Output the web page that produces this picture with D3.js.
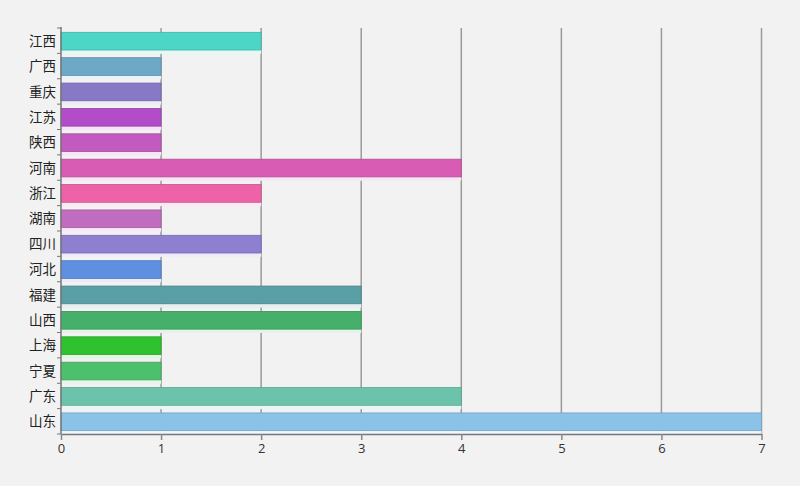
<!DOCTYPE html>
<html><head><meta charset="utf-8">
<script src="https://cdn.jsdelivr.net/npm/d3@7"></script>
<style>
html,body{margin:0;padding:0;background:#f2f2f2;}
svg{display:block;}
</style></head>
<body>
<script>
const categories = ["江西","广西","重庆","江苏","陕西","河南","浙江","湖南","四川","河北","福建","山西","上海","宁夏","广东","山东"];
const values = [2,1,1,1,1,4,2,1,2,1,3,3,1,1,4,7];
const colors = ["#4dd5c5","#6ea8c7","#8779c6","#b24cc9","#c35ac0","#d85bb4","#ee62a7","#c06dbf","#8e7fd0","#5e8fe0","#5a9ea6","#46b06b","#30c12f","#4dc06d","#6cc3ac","#8ac2e8"];
const xTicks = [0,1,2,3,4,5,6,7];

const W = 800, H = 486;
const m = {left: 61, right: 38, top: 28, bottom: 52};
const svg = d3.select("body").append("svg").attr("width", W).attr("height", H);
svg.append("rect").attr("width", W).attr("height", H).attr("fill", "#f2f2f2");

const x = d3.scaleLinear().domain([0, 7]).range([m.left, W - m.right - 0.5]);
const y = d3.scaleBand().domain(categories).range([m.top, H - m.bottom]).padding(0);
const bw = y.bandwidth();
const yBottom = H - m.bottom;

// gridlines
svg.append("g").selectAll("line").data(xTicks.slice(1)).join("line")
  .attr("x1", d => x(d)).attr("x2", d => x(d))
  .attr("y1", m.top).attr("y2", yBottom)
  .attr("stroke", "#9a9a9a").attr("stroke-width", 1.5);

// light strips below bars
const rows = categories.map((c, i) => ({c, v: values[i], col: colors[i]}));
svg.append("g").selectAll("rect").data(rows).join("rect")
  .attr("x", x(0)).attr("y", d => y(d.c) + bw * 0.17 + 17.7)
  .attr("width", d => x(d.v) - x(0))
  .attr("height", d => Math.max(0, Math.min(bw * 0.83 - 17.7 + 0.5, yBottom - (y(d.c) + bw * 0.17 + 17.7))))
  .attr("fill", d => d3.interpolateRgb(d.col, "#ffffff")(0.85));

// bars
svg.append("g").selectAll("rect").data(rows).join("rect")
  .attr("x", x(0)).attr("y", d => y(d.c) + bw * 0.17)
  .attr("width", d => x(d.v) - x(0))
  .attr("height", 17.7)
  .attr("fill", d => d.col)
  .attr("stroke", d => d3.color(d.col).darker(0.5))
  .attr("stroke-width", 0.8);

// x axis
const xa = svg.append("g").attr("transform", `translate(0,${yBottom})`)
  .call(d3.axisBottom(x).tickValues(xTicks).tickSize(6).tickSizeOuter(0).tickFormat(d3.format("d")));
xa.select(".domain").attr("stroke", "#777").attr("stroke-width", 1.5);
xa.selectAll(".tick line").attr("stroke", "#888").attr("stroke-width", 1.5);
xa.selectAll("text").attr("fill", "#333").attr("font-size", 13)
  .attr("font-family", "'Open Sans','DejaVu Sans',sans-serif").attr("dy", "0.8em");

// y axis
const ya = svg.append("g").attr("transform", `translate(${m.left},0)`);
ya.append("line").attr("x1", 0).attr("x2", 0).attr("y1", m.top - 1).attr("y2", yBottom)
  .attr("stroke", "#777").attr("stroke-width", 1.5);
const bounds = categories.map(c => y(c)).concat([yBottom]);
ya.selectAll("line.t").data(bounds).join("line").attr("class", "t")
  .attr("x1", -4).attr("x2", 0).attr("y1", d => d).attr("y2", d => d)
  .attr("stroke", "#777").attr("stroke-width", 1);
ya.selectAll("text").data(categories).join("text")
  .attr("x", -5).attr("y", d => y(d) + bw * 0.17 + 8.8)
  .attr("dy", "0.35em").attr("text-anchor", "end")
  .attr("font-size", 13.5).attr("fill", "#222")
  .attr("font-family", "'Noto Sans CJK SC',sans-serif")
  .text(d => d);
</script>
</body></html>
